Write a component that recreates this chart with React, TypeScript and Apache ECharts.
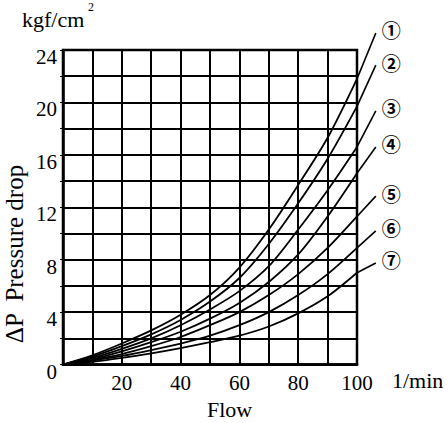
import React, { useEffect, useRef } from "react";
import * as echarts from "echarts";

const flows = [0, 10, 20, 30, 40, 50, 60, 70, 80, 90, 100];
const curve1 = [0, 0.7, 1.6, 2.6, 3.8, 5.3, 7.4, 10.3, 13.7, 17.3, 21.8];
const curve2 = [0, 0.6, 1.4, 2.3, 3.4, 4.8, 6.6, 9.2, 12.3, 15.7, 19.7];
const curve3 = [0, 0.5, 1.2, 2.0, 3.0, 4.2, 5.6, 7.5, 10.3, 13.3, 16.6];
const curve4 = [0, 0.4, 1.0, 1.7, 2.5, 3.5, 4.7, 6.3, 8.4, 11.3, 14.6];
const curve5 = [0, 0.35, 0.8, 1.4, 2.1, 3.0, 4.0, 5.3, 6.9, 8.9, 11.3];
const curve6 = [0, 0.3, 0.65, 1.1, 1.6, 2.2, 3.0, 4.0, 5.3, 6.9, 8.9];
const curve7 = [0, 0.2, 0.5, 0.85, 1.25, 1.7, 2.2, 2.9, 3.9, 5.2, 7.0];
const curves = [curve1, curve2, curve3, curve4, curve5, curve6, curve7];
const curveLabels = ["①", "②", "③", "④", "⑤", "⑥", "⑦"];
const leaderX = 106.4;
const leaderY = [25.3, 22.85, 19.35, 16.6, 12.85, 10.2, 7.75];

const SERIF = "Liberation Serif";

export default function App() {
  const ref = useRef<HTMLDivElement>(null);
  useEffect(() => {
    const chart = echarts.init(ref.current!, null, { renderer: "svg" });
    const series: any[] = [];
    curves.forEach((c) => {
      series.push({
        type: "line",
        data: flows.map((f, j) => [f, c[j]]),
        smooth: 0.3,
        symbol: "none",
        lineStyle: { color: "#000", width: 1.8 },
        z: 5,
      });
    });
    const lastFlow = flows[flows.length - 1];
    series.push({
      type: "custom",
      clip: false,
      z: 6,
      encode: { x: [0, 2], y: [1, 3] },
      data: curves.map((c, i) => [lastFlow, c[c.length - 1], leaderX, leaderY[i], i]),
      renderItem: (params: any, api: any) => {
        const p0 = api.coord([api.value(0), api.value(1)]);
        const p1 = api.coord([api.value(2), api.value(3)]);
        const idx = api.value(4);
        return {
          type: "group",
          children: [
            {
              type: "line",
              shape: { x1: p0[0], y1: p0[1], x2: p1[0], y2: p1[1] },
              style: { stroke: "#000", lineWidth: 1.6 },
            },
            {
              type: "text",
              x: p1[0] + 6,
              y: p1[1] - 3,
              style: {
                text: curveLabels[idx],
                fill: "#000",
                fontSize: 19,
                lineHeight: 19,
                fontWeight: "bold",
                fontFamily: "Noto Sans CJK JP",
                align: "left",
                verticalAlign: "middle",
              },
            },
          ],
        };
      },
    });
    const option = {
      animation: false,
      textStyle: { fontFamily: SERIF },
      grid: {
        left: 63,
        top: 50,
        width: 294,
        height: 314.5,
        show: true,
        borderColor: "#000",
        borderWidth: 2.5,
        backgroundColor: "transparent",
      },
      xAxis: {
        type: "value",
        min: 0,
        max: 100,
        interval: 10,
        axisLine: { show: true, lineStyle: { color: "#000", width: 2.5 } },
        axisTick: { show: false },
        splitLine: { show: true, lineStyle: { color: "#000", width: 2 } },
        axisLabel: {
          margin: 8,
          color: "#000",
          fontSize: 21,
          fontFamily: SERIF,
          formatter: (v: number) => (v % 20 === 0 && v !== 0 ? String(v) : ""),
        },
      },
      yAxis: {
        type: "value",
        min: 0,
        max: 24,
        interval: 2,
        axisLine: { show: true, lineStyle: { color: "#000", width: 2.5 } },
        axisTick: { show: true, length: 3, lineStyle: { color: "#000", width: 1 } },
        splitLine: { show: true, lineStyle: { color: "#000", width: 2 } },
        axisLabel: {
          margin: 6,
          color: "#000",
          fontSize: 21,
          fontFamily: SERIF,
          verticalAlign: "top",
          lineHeight: 14,
          formatter: (v: number) => (v % 4 === 0 ? String(v) : ""),
        },
      },
      graphic: [
        {
          type: "text",
          left: 22,
          top: 8,
          style: { text: "kgf/cm", fill: "#000", fontSize: 22, fontFamily: SERIF },
        },
        {
          type: "text",
          left: 88,
          top: 1,
          style: { text: "2", fill: "#000", fontSize: 12, fontFamily: SERIF },
        },
        {
          type: "text",
          left: 392,
          top: 369,
          style: { text: "1/min", fill: "#000", fontSize: 22, fontFamily: SERIF },
        },
        {
          type: "text",
          left: 207,
          top: 398,
          style: { text: "Flow", fill: "#000", fontSize: 22, fontFamily: SERIF },
        },
        {
          type: "text",
          x: 14,
          y: 254,
          rotation: Math.PI / 2,
          style: {
            text: "ΔP  Pressure drop",
            fill: "#000",
            fontSize: 25,
            fontFamily: SERIF,
            align: "center",
            verticalAlign: "middle",
          },
        },
      ],
      series,
    };
    chart.setOption(option as any);
    return () => chart.dispose();
  }, []);
  return (
    <div
      ref={ref}
      style={{ position: "absolute", left: 0, top: 0, width: 448, height: 423 }}
    />
  );
}
